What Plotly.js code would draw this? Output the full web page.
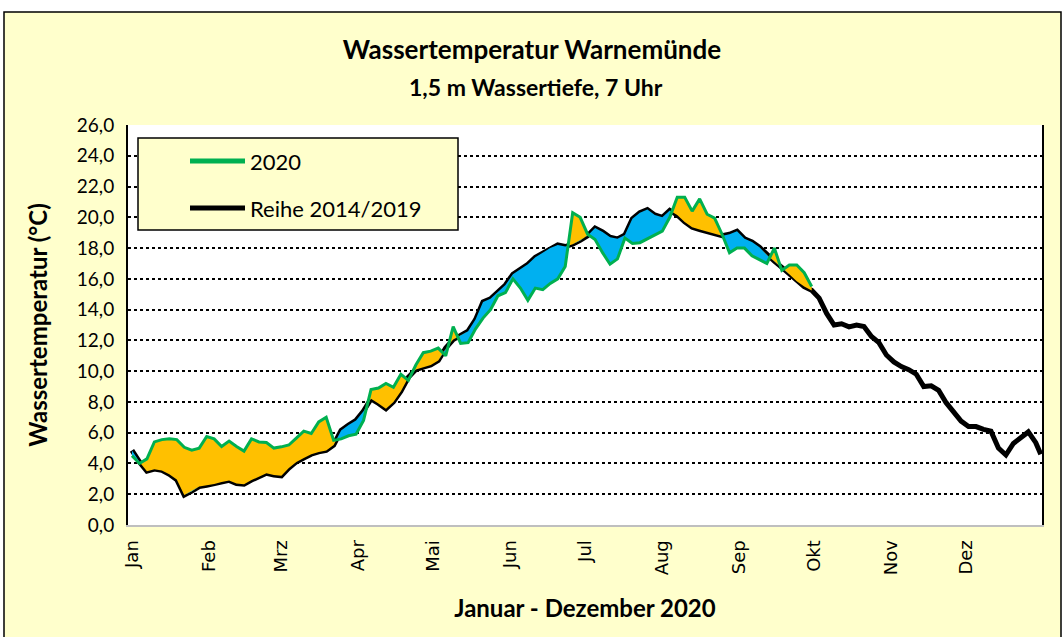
<!DOCTYPE html>
<html><head><meta charset="utf-8">
<script src="https://cdn.plot.ly/plotly-3.0.1.min.js"></script>
<style>html,body{margin:0;padding:0;background:#fff}#chart{width:1064px;height:637px}</style>
</head><body><div id="chart"></div>
<script>
// Month ticks (day-of-year 2020, 0 = 1 Jan)
const monthLabels = ['Jan','Feb','Mrz','Apr','Mai','Jun','Jul','Aug','Sep','Okt','Nov','Dez'];
const monthStartDays = [0,31,60,91,121,152,182,213,244,274,305,335];

// Reference series 2014/2019 (every 3 days)
const refDays = [0,3,6,9,12,15,18,21,24,27,30,33,36,39,42,45,48,51,54,57,60,63,66,69,72,75,78,81,84,87,90,93,96,99,102,105,108,111,114,117,120,123,126,129,132,135,138,141,144,147,150,153,156,159,162,165,168,171,174,177,180,183,186,189,192,195,198,201,204,207,210,213,216,219,222,225,228,231,234,237,240,243,246,249,252,255,258,261,264,267,270,273,276,279,282,285,288,291,294,297,300,303,306,309,312,315,318,321,324,327,330,333,336,339,342,345,348,351,354,357,360,363,365];
const refValues = [4.85,4.1,3.5,3.63,3.55,3.3,2.95,1.95,2.2,2.5,
  2.58,2.66,2.8,2.9,2.7,2.65,2.92,3.15,3.36,3.25,
  3.2,3.7,4.1,4.35,4.6,4.75,4.85,5.2,6.15,6.5,
  6.8,7.4,8.2,7.9,7.56,8.0,8.7,9.6,10.1,10.26,
  10.4,10.7,11.5,12.05,12.3,12.6,13.35,14.5,14.7,15.15,
  15.6,16.3,16.6,16.95,17.4,17.68,18.0,18.2,18.1,18.25,
  18.5,18.8,19.3,19.05,18.7,18.6,18.85,19.9,20.3,20.5,
  20.15,20.0,20.45,20.15,19.7,19.35,19.2,19.05,18.95,18.8,
  18.9,19.1,18.6,18.4,18.05,17.55,17.15,16.75,16.3,15.85,
  15.5,15.25,14.75,13.75,13.0,13.08,12.88,13.0,12.9,12.25,
  11.85,11.05,10.6,10.3,10.1,9.8,9.0,9.05,8.75,7.95,
  7.4,6.75,6.4,6.4,6.22,6.1,5.0,4.55,5.3,5.65,
  6.05,5.35,4.6];

// Series 2020 (same 3-day grid, until early October)
const days2020 = [0,3,6,9,12,15,18,21,24,27,30,33,36,39,42,45,48,51,54,57,60,63,66,69,72,75,78,81,84,87,90,93,96,99,102,105,108,111,114,117,120,123,126,129,132,135,138,141,144,147,150,153,156,159,162,165,168,171,174,177,180,183,186,189,192,195,198,201,204,207,210,213,216,219,222,225,228,231,234,237,240,243,246,249,252,255,258,261,264,267,270,273];
const values2020 = [4.5,4.0,4.3,5.4,5.55,5.6,5.55,5.05,4.87,5.0,
  5.75,5.6,5.1,5.45,5.1,4.8,5.6,5.4,5.36,5.0,
  5.08,5.2,5.65,6.1,5.95,6.7,7.0,5.5,5.6,5.8,
  5.9,6.8,8.8,8.9,9.2,8.95,9.8,9.4,10.4,11.2,
  11.3,11.5,11.0,12.9,11.8,11.85,12.75,13.45,14.0,14.9,
  15.1,16.0,15.4,14.6,15.4,15.3,15.7,16.0,16.8,20.3,
  20.0,18.9,18.55,17.7,16.95,17.3,18.65,18.3,18.35,18.6,
  18.9,19.1,20.0,21.3,21.3,20.4,21.2,20.2,19.95,18.9,
  17.7,18.0,18.0,17.5,17.25,17.0,18.0,16.55,16.9,16.9,
  16.4,15.5];

const yTicks = [0,2,4,6,8,10,12,14,16,18,20,22,24,26];
const seriesNames = ['2020', 'Reihe 2014/2019'];
const seriesColors = ['#00B050', '#000000'];

// Build fill geometry between both series (crossing points added so colours split cleanly)
const refAt2020 = refValues.slice(0, days2020.length);
const fx = [], fBase = [], fUp = [], fLo = [];
for (let i = 0; i < days2020.length; i++) {
  if (i > 0) {
    const d0 = values2020[i-1] - refAt2020[i-1], d1 = values2020[i] - refAt2020[i];
    if (d0 * d1 < 0) {
      const t = d0 / (d0 - d1);
      const xc = days2020[i-1] + t * (days2020[i] - days2020[i-1]);
      const yc = refAt2020[i-1] + t * (refAt2020[i] - refAt2020[i-1]);
      fx.push(xc); fBase.push(yc); fUp.push(yc); fLo.push(yc);
    }
  }
  fx.push(days2020[i]); fBase.push(refAt2020[i]);
  fUp.push(Math.max(values2020[i], refAt2020[i]));
  fLo.push(Math.min(values2020[i], refAt2020[i]));
}

const traces = [
  {x: refDays, y: refValues, type: 'scatter', mode: 'lines', name: seriesNames[1],
   line: {color: seriesColors[1], width: 5}, showlegend: false, hoverinfo: 'skip'},
  {x: fx, y: fBase, type: 'scatter', mode: 'lines', line: {width: 0}, showlegend: false, hoverinfo: 'skip'},
  {x: fx, y: fUp, type: 'scatter', mode: 'lines', line: {width: 0}, fill: 'tonexty', fillcolor: '#FFC000', showlegend: false, hoverinfo: 'skip'},
  {x: fx, y: fBase, type: 'scatter', mode: 'lines', line: {width: 0}, showlegend: false, hoverinfo: 'skip'},
  {x: fx, y: fLo, type: 'scatter', mode: 'lines', line: {width: 0}, fill: 'tonexty', fillcolor: '#00B0F0', showlegend: false, hoverinfo: 'skip'},
  {x: days2020, y: values2020, type: 'scatter', mode: 'lines', name: seriesNames[0],
   line: {color: seriesColors[0], width: 3}, showlegend: false, hoverinfo: 'skip'}
];

const L = 128, R = 1042, T = 125, B = 525, W = 1064, H = 637;
const px2x = p => (p - L) / (R - L);
const py2y = p => (B - p) / (B - T);

// Legend (drawn as boxed key, Excel style)
const legendShapes = [
  {type: 'rect', xref: 'paper', yref: 'paper', layer: 'above',
   x0: px2x(138), x1: px2x(458), y0: py2y(230), y1: py2y(138),
   fillcolor: '#FFFFCC', line: {color: '#000000', width: 1.5}}
];
const legendAnn = [];
const legendRows = [161, 208];
seriesNames.forEach((n, i) => {
  legendShapes.push({type: 'line', xref: 'paper', yref: 'paper', layer: 'above',
    x0: px2x(190), x1: px2x(245), y0: py2y(legendRows[i]), y1: py2y(legendRows[i]),
    line: {color: seriesColors[i], width: 5}});
  legendAnn.push({text: n, xref: 'paper', yref: 'paper', x: px2x(248), y: py2y(legendRows[i]),
    xanchor: 'left', yanchor: 'middle', showarrow: false,
    font: {family: 'Lato, sans-serif', size: 22, color: '#000'}});
});

const layout = {
  width: W, height: H,
  margin: {l: L, r: W - R, t: T, b: H - B, pad: 0},
  paper_bgcolor: '#FFFFFF',
  plot_bgcolor: 'rgba(0,0,0,0)',
  separators: ',.',
  font: {family: 'Lato, sans-serif', color: '#000000'},
  title: {
    text: 'Wassertemperatur Warnemünde',
    font: {family: 'Lato, sans-serif', size: 26, weight: 700, color: '#000'},
    xref: 'container', x: 0.5, yref: 'container', y: 1 - 50 / H, yanchor: 'middle'
  },
  annotations: [
    {text: '1,5 m Wassertiefe, 7 Uhr', xref: 'paper', yref: 'paper', x: px2x(536), y: py2y(87),
     xanchor: 'center', yanchor: 'middle', showarrow: false,
     font: {family: 'Lato, sans-serif', size: 23, weight: 700, color: '#000'}}
  ].concat(legendAnn),
  xaxis: {
    range: [-1.6, 365.5], tickvals: monthStartDays, ticktext: monthLabels, tickangle: -90,
    tickfont: {family: 'DejaVu Sans, sans-serif', size: 18, color: '#000'},
    showgrid: false, zeroline: false, showline: true, linecolor: '#BFBFBF', linewidth: 2,
    ticks: '', ticklabelstandoff: 6, automargin: false,
    title: {text: 'Januar - Dezember 2020', font: {family: 'Lato, sans-serif', size: 24, weight: 700, color: '#000'}, standoff: 26}
  },
  yaxis: {
    range: [0, 26], tickvals: yTicks, tickformat: '.1f',
    tickfont: {family: 'Lato, sans-serif', size: 19, color: '#000'},
    showgrid: true, gridcolor: '#000000', gridwidth: 2, griddash: 'dot',
    zeroline: false, showline: true, linecolor: '#000000', linewidth: 2, mirror: true,
    ticks: '', ticklabelstandoff: 8, automargin: false,
    title: {text: 'Wassertemperatur (°C)', font: {family: 'Lato, sans-serif', size: 24, weight: 700, color: '#000'}, standoff: 22}
  },
  shapes: [
    {type: 'rect', xref: 'paper', yref: 'paper', layer: 'below',
     x0: px2x(4), x1: px2x(1061), y0: py2y(640), y1: py2y(12),
     fillcolor: '#FFFFCC', line: {color: '#000000', width: 1.5}},
    {type: 'rect', xref: 'paper', yref: 'paper', layer: 'below',
     x0: 0, x1: 1, y0: 0, y1: 1, fillcolor: '#FFFFFF', line: {width: 0}}
  ].concat(legendShapes),
  showlegend: false
};

Plotly.newPlot('chart', traces, layout, {staticPlot: true, displayModeBar: false});
</script>
</body></html>
